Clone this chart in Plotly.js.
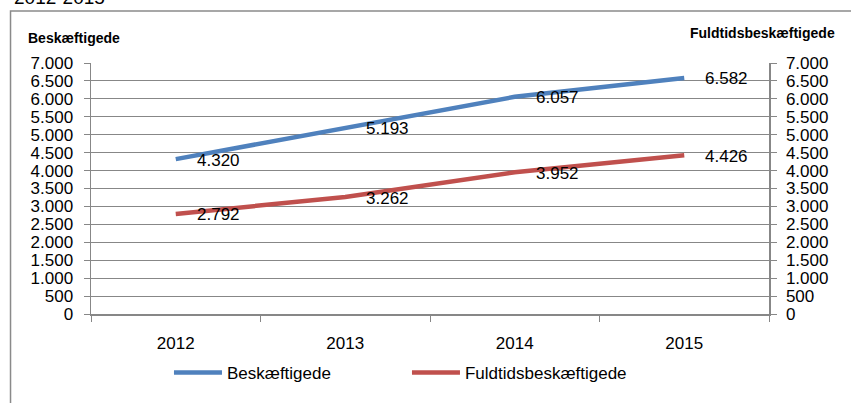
<!DOCTYPE html>
<html>
<head>
<meta charset="utf-8">
<script src="https://cdn.plot.ly/plotly-3.0.1.min.js"></script>
<style>html,body{margin:0;padding:0;background:#fff;}#chart{width:851px;height:403px;}</style>
</head>
<body>
<div id="chart"></div>
<script>
const years = ['2012', '2013', '2014', '2015'];
const beskaeftigede = [4320, 5193, 6057, 6582];
const fuldtids = [2792, 3262, 3952, 4426];
const yTicks = [0, 500, 1000, 1500, 2000, 2500, 3000, 3500, 4000, 4500, 5000, 5500, 6000, 6500, 7000];
const seriesNames = ['Beskæftigede', 'Fuldtidsbeskæftigede'];
const titleText = '2012-2015';

const FONT = 'Liberation Sans, Arial, sans-serif';
const GRID = '#878787';
function fmt(v) { return String(v).replace(/\B(?=(\d{3})+(?!\d))/g, '.'); }

const traces = [
  {x: years, y: beskaeftigede, name: seriesNames[0], mode: 'lines', type: 'scatter',
   line: {color: '#4F81BD', width: 4.5}},
  {x: years, y: fuldtids, name: seriesNames[1], mode: 'lines', type: 'scatter', yaxis: 'y2',
   line: {color: '#C0504D', width: 4.5}}
];

const annotations = [];
[beskaeftigede, fuldtids].forEach((arr, si) => {
  arr.forEach((v, i) => {
    annotations.push({x: i, y: v, xref: 'x', yref: si ? 'y2' : 'y', text: fmt(v),
      showarrow: false, xanchor: 'left', yanchor: 'middle', xshift: 19, yshift: -1,
      font: {family: FONT, size: 17, color: '#000'}});
  });
});
annotations.push({xref: 'paper', yref: 'paper', x: -0.1165, y: 1.262, xanchor: 'left', yanchor: 'middle',
  text: titleText, showarrow: false, font: {family: FONT, size: 19, color: '#000'}});
annotations.push({xref: 'paper', yref: 'paper', x: -0.0953, y: 1.098, xanchor: 'left', yanchor: 'middle',
  text: '<b>' + seriesNames[0] + '</b>', showarrow: false, font: {family: FONT, size: 14, color: '#000'}});
annotations.push({xref: 'paper', yref: 'paper', x: 1.1, y: 1.118, xanchor: 'right', yanchor: 'middle',
  text: '<b>' + seriesNames[1] + '</b>', showarrow: false, font: {family: FONT, size: 14, color: '#000'}});

const yaxisCommon = {
  range: [0, 7000], tickvals: yTicks, ticktext: yTicks.map(fmt), ticks: 'outside', ticklen: 6,
  tickcolor: GRID, tickwidth: 1, showline: true, linecolor: GRID, linewidth: 1.5,
  tickfont: {family: FONT, size: 17, color: '#000'}, zeroline: false, fixedrange: true
};

const layout = {
  width: 851, height: 403,
  margin: {l: 91, r: 82, t: 63, b: 86},
  paper_bgcolor: '#fff', plot_bgcolor: '#fff',
  showlegend: true,
  legend: {orientation: 'h', x: 0.115, y: -0.235, xanchor: 'left', yanchor: 'middle',
    font: {family: FONT, size: 17, color: '#000'}, entrywidth: 175, itemwidth: 48, traceorder: 'normal'},
  xaxis: {type: 'category', range: [-0.5, 3.5], tickson: 'boundaries', ticks: 'outside', ticklen: 6,
    tickcolor: GRID, tickwidth: 1, showline: true, linecolor: GRID, linewidth: 1.5, showgrid: false,
    ticklabelstandoff: 13,
    tickfont: {family: FONT, size: 17, color: '#000'}, fixedrange: true},
  yaxis: Object.assign({}, yaxisCommon, {showgrid: true, gridcolor: GRID, gridwidth: 1, ticklabelstandoff: 7}),
  yaxis2: Object.assign({}, yaxisCommon, {overlaying: 'y', side: 'right', showgrid: false, ticklabelstandoff: 6}),
  annotations: annotations,
  shapes: [{type: 'rect', xref: 'paper', yref: 'paper', x0: -0.1187, x1: 1.3, y0: -0.4, y1: 1.2067,
    line: {color: '#8a8a8a', width: 1.5}, fillcolor: 'rgba(0,0,0,0)', layer: 'below'}]
};

Plotly.newPlot('chart', traces, layout, {displayModeBar: false, staticPlot: true});
</script>
</body>
</html>
